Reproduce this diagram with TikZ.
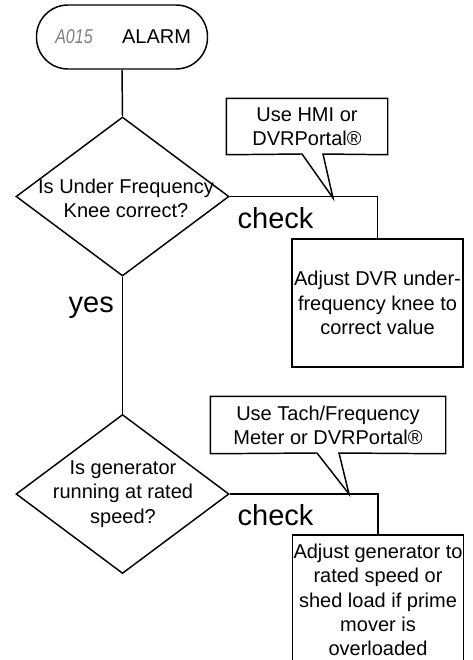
\documentclass[tikz,border=0pt]{standalone}
\usepackage{fontspec}
\setmainfont{Liberation Sans}
\usetikzlibrary{shapes.geometric}
\newdimen\pxu \pxu=0.75pt

\begin{document}
\begin{tikzpicture}[
  x=0.75pt, y=-0.75pt,
  line width=1.1pt,
  every node/.style={font=\fontsize{15}{18.2}\selectfont, inner sep=0pt},
  terminal/.style={draw, rectangle, rounded corners=31.5\pxu, minimum width=171\pxu, minimum height=64\pxu},
  decision/.style={draw, diamond, minimum width=213\pxu, minimum height=159\pxu},
  action/.style={draw, rectangle, align=center, minimum width=171\pxu},
  note/.style={align=center, minimum width=160\pxu, minimum height=55\pxu},
  answer/.style={font=\fontsize{21.75}{26}\selectfont, anchor=base west}
]
\useasboundingbox (0,0) rectangle (472,660);
\clip (0,0) rectangle (472,660);

% ---------- Start ----------
\node[terminal] (alarm) at (122,37) {};
\node[text=black!50] (code) at (74,37) {\scalebox{0.8}[1]{\itshape A015}};
\node (alarmtxt) at (156.5,37) {ALARM};

% ---------- First check ----------
\node[decision] (q1) at (122.5,196.5) {};
\node[align=center] (q1txt) at (126,198.5) {Is Under Frequency\\Knee correct?};

\node[action, minimum height=128\pxu] (fix1) at (377.5,303) {Adjust DVR under-\\frequency knee to\\correct value};

\node[note] (hmi) at (307,126.5) {Use HMI or\\DVRPortal®};
\coordinate (hmitip) at (333,198);
\draw (hmi.south west) -- (hmi.north west) -- (hmi.north east) -- (hmi.south east)
  -- (323,154) -- (hmitip) -- (302,154) -- cycle;

% ---------- Second check ----------
\node[decision] (q2) at (122.5,494) {};
\node[align=center] (q2txt) at (123,494) {Is generator\\running at rated\\speed?};

\node[action, minimum height=130\pxu] (fix2) at (378,600) {Adjust generator to\\rated speed or\\shed load if prime\\mover is\\overloaded};

\node[note, minimum width=234\pxu, minimum height=56\pxu] (tach) at (328,425) {Use Tach/Frequency\\Meter or DVRPortal®};
\coordinate (tachtip) at (349,494);
\draw (tach.south west) -- (tach.north west) -- (tach.north east) -- (tach.south east)
  -- (339,453) -- (tachtip) -- (317,453) -- cycle;

% ---------- Connectors ----------
\draw (alarm.south) -- (q1.north);
\draw (q1.south) -- (q2.north);
\draw (q1.east) -| (fix1.north);
\draw (q2.east) -| (fix2.north);

% ---------- Branch labels ----------
\node[answer] (yes1) at (68,312) {yes};
\node[answer] (check1) at (237,228) {check};
\node[answer] (check2) at (237,525) {check};

\end{tikzpicture}
\end{document}
